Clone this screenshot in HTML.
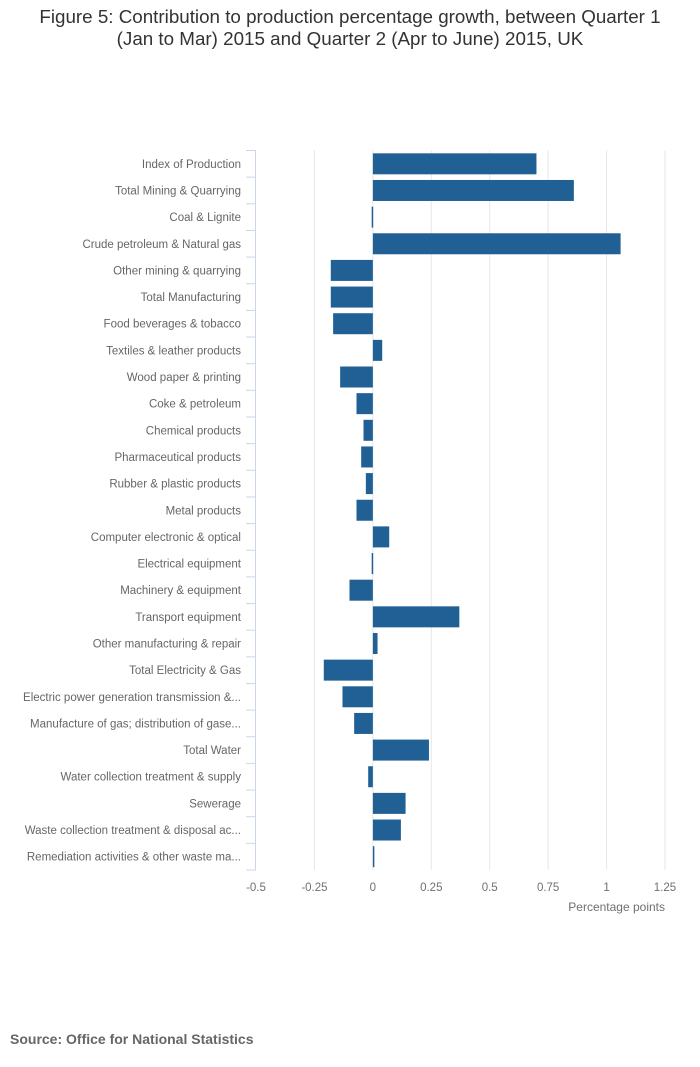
<!DOCTYPE html>
<html><head><meta charset="utf-8">
<style>
body{margin:0;background:#fff;font-family:"Liberation Sans",sans-serif;}
#wrap{position:relative;width:700px;height:1067px;}
#title{position:absolute;left:0;top:6px;width:700px;text-align:center;font-size:18.8px;line-height:22px;color:#333;}
#source{position:absolute;left:10px;top:1031px;font-size:14px;font-weight:bold;color:#666;}
</style></head><body>
<div id="wrap">
<div id="title">Figure 5: Contribution to production percentage growth, between Quarter 1<br>(Jan to Mar) 2015 and Quarter 2 (Apr to June) 2015, UK</div>
<svg id="chart" width="700" height="1067" style="position:absolute;left:0;top:0"></svg>
<div id="source">Source: Office for National Statistics</div>
</div>
<script>
const categories=["Index of Production","Total Mining & Quarrying","Coal & Lignite","Crude petroleum & Natural gas","Other mining & quarrying","Total Manufacturing","Food beverages & tobacco","Textiles & leather products","Wood paper & printing","Coke & petroleum","Chemical products","Pharmaceutical products","Rubber & plastic products","Metal products","Computer electronic & optical","Electrical equipment","Machinery & equipment","Transport equipment","Other manufacturing & repair","Total Electricity & Gas","Electric power generation transmission &...","Manufacture of gas; distribution of gase...","Total Water","Water collection treatment & supply","Sewerage","Waste collection treatment & disposal ac...","Remediation activities & other waste ma..."];
const values=[0.70,0.86,-0.005,1.06,-0.18,-0.18,-0.17,0.04,-0.14,-0.07,-0.04,-0.05,-0.03,-0.07,0.07,-0.005,-0.10,0.37,0.02,-0.21,-0.13,-0.08,0.24,-0.02,0.14,0.12,0.005];
const tickValues=[-0.5,-0.25,0,0.25,0.5,0.75,1,1.25];
const tickLabels=["-0.5","-0.25","0","0.25","0.5","0.75","1","1.25"];

const svg=document.getElementById('chart');
const NS='http://www.w3.org/2000/svg';
const x0=256,x1=665,xmin=-0.5,xmax=1.25,plotTop=150.5,plotBottom=870;
const band=(plotBottom-plotTop)/categories.length;
function xs(v){return x0+(v-xmin)/(xmax-xmin)*(x1-x0);}
function yb(i){return plotTop+i*band;}
function mk(t,a){const e=document.createElementNS(NS,t);for(const k in a)e.setAttribute(k,a[k]);svg.appendChild(e);return e;}

tickValues.forEach((v,i)=>{
  if(i>0){const g=mk('line',{x1:xs(v),x2:xs(v),y1:plotTop,y2:plotBottom,stroke:'#e6e6e6','stroke-width':1});
  
  }
  const t=mk('text',{x:xs(v),y:891,'text-anchor':'middle','font-size':11.5,fill:'#707070','font-family':'Liberation Sans, sans-serif'});
  t.textContent=tickLabels[i];
  
  
});
const ax=mk('line',{x1:x0-0.5,x2:x0-0.5,y1:plotTop,y2:plotBottom,stroke:'#ccd6eb','stroke-width':1});


for(let i=0;i<=categories.length;i++){
  const tk=mk('line',{x1:x0-10,x2:x0,y1:yb(i),y2:yb(i),stroke:'#ccd6eb','stroke-width':1});
  
  
}
categories.forEach((c,i)=>{
  const cy=yb(i)+band/2;
  const t=mk('text',{x:241,y:cy+4,'text-anchor':'end','font-size':11.5,fill:'#666','font-family':'Liberation Sans, sans-serif'});
  t.textContent=c;
  
  
  const v=values[i];
  const a=xs(Math.min(0,v)),b=xs(Math.max(0,v));
  const r=mk('rect',{x:a,y:cy-10.5,width:Math.max(1.5,b-a),height:21,fill:'#206095'});
  
  
});
const xt=mk('text',{x:665,y:911,'text-anchor':'end','font-size':12,fill:'#707070','font-family':'Liberation Sans, sans-serif'});
xt.textContent='Percentage points';


</script>
</body></html>
